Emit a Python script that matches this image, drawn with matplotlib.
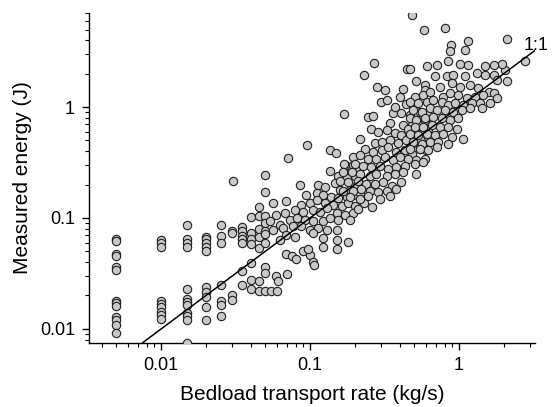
import numpy as np
import matplotlib
matplotlib.use('Agg')
import matplotlib.pyplot as plt
from matplotlib.ticker import LogLocator, NullFormatter

plt.rcParams['font.family'] = ['Liberation Sans', 'DejaVu Sans']

# low transport rates are logged in 0.005 kg/s steps -> vertical columns
col_rate = [0.005, 0.010, 0.015, 0.020, 0.025, 0.030, 0.035, 0.040, 0.045, 0.050, 0.055]
col_energy = [
    [0.065, 0.062, 0.047, 0.045, 0.036, 0.034, 0.018, 0.017, 0.016, 0.0127, 0.0119, 0.0108, 0.0091],
    [0.063, 0.059, 0.055, 0.018, 0.0166, 0.0157, 0.0143, 0.0134, 0.0122],
    [0.086, 0.064, 0.060, 0.055, 0.023, 0.0185, 0.0176, 0.0164, 0.0138, 0.0131, 0.0119, 0.0074],
    [0.068, 0.064, 0.059, 0.055, 0.050, 0.024, 0.0217, 0.0195, 0.0157, 0.0119],
    [0.086, 0.069, 0.060, 0.025, 0.018, 0.0164, 0.0131],
    [0.076, 0.073, 0.0203, 0.0182],
    [0.082, 0.076, 0.069, 0.064, 0.059, 0.0335, 0.0247],
    [0.103, 0.073, 0.064, 0.058, 0.039, 0.0276, 0.0228],
    [0.125, 0.104, 0.080, 0.067, 0.054, 0.027, 0.022],
    [0.105, 0.090, 0.077, 0.072, 0.060, 0.036, 0.032, 0.022],
    [0.022],
]

# (rate, energy) pairs, rate 0.03 - 0.22 kg/s
pts_low = [
    (0.0305, 0.216), (0.050, 0.245), (0.050, 0.171), (0.0705, 0.347), (0.095, 0.45),
    (0.135, 0.41), (0.150, 0.385),
    (0.059, 0.030), (0.061, 0.027), (0.070, 0.031), (0.060, 0.022),
    (0.069, 0.047), (0.075, 0.045), (0.080, 0.043), (0.090, 0.050),
    (0.100, 0.046), (0.105, 0.040), (0.106, 0.038),
    (0.172, 0.301), (0.195, 0.301), (0.207, 0.276), (0.185, 0.254), (0.136, 0.263),
    (0.155, 0.237), (0.176, 0.229), (0.200, 0.237), (0.085, 0.199), (0.113, 0.199),
    (0.126, 0.192), (0.147, 0.206), (0.159, 0.179), (0.185, 0.179), (0.205, 0.199),
    (0.0945, 0.162), (0.1105, 0.167), (0.1225, 0.162), (0.139, 0.156), (0.155, 0.151),
    (0.176, 0.156), (0.195, 0.162), (0.216, 0.167), (0.069, 0.141), (0.087, 0.131),
    (0.0996, 0.136), (0.1105, 0.146), (0.126, 0.136), (0.1435, 0.131), (0.163, 0.127),
    (0.181, 0.136), (0.200, 0.127), (0.0564, 0.136), (0.0594, 0.107), (0.0675, 0.110),
    (0.079, 0.118), (0.0898, 0.114), (0.105, 0.118), (0.1165, 0.114), (0.129, 0.123),
    (0.151, 0.110), (0.172, 0.107), (0.195, 0.110), (0.0536, 0.093), (0.0625, 0.087),
    (0.073, 0.096), (0.081, 0.0995), (0.092, 0.096), (0.105, 0.093), (0.1225, 0.093),
    (0.136, 0.0995), (0.155, 0.096), (0.185, 0.096), (0.0564, 0.078), (0.066, 0.081),
    (0.077, 0.084), (0.087, 0.084), (0.0996, 0.078), (0.113, 0.081), (0.129, 0.078),
    (0.151, 0.078), (0.069, 0.070), (0.079, 0.068), (0.105, 0.073), (0.1225, 0.066),
    (0.151, 0.063), (0.181, 0.061), (0.0625, 0.063), (0.097, 0.053), (0.1225, 0.055),
    (0.151, 0.053),
    (0.23, 0.135), (0.26, 0.125), (0.21, 0.12),
]

# rate 0.15 - 0.65 kg/s
pts_mid = [
    (0.170, 0.867), (0.245, 0.81), (0.265, 0.83), (0.361, 0.88), (0.41, 0.88),
    (0.467, 0.85), (0.544, 0.91), (0.61, 0.88), (0.216, 0.52), (0.343, 0.713),
    (0.421, 0.69), (0.48, 0.69), (0.53, 0.74), (0.588, 0.765), (0.258, 0.64),
    (0.287, 0.60), (0.326, 0.62), (0.37, 0.58), (0.41, 0.56), (0.455, 0.64),
    (0.504, 0.56), (0.573, 0.64), (0.62, 0.64), (0.272, 0.469), (0.302, 0.486),
    (0.343, 0.503), (0.39, 0.469), (0.443, 0.503), (0.491, 0.469), (0.558, 0.503),
    (0.62, 0.54), (0.233, 0.42), (0.265, 0.39), (0.302, 0.407), (0.334, 0.437),
    (0.38, 0.39), (0.432, 0.407), (0.48, 0.38), (0.544, 0.42), (0.603, 0.407),
    (0.194, 0.354), (0.216, 0.367), (0.245, 0.342), (0.279, 0.342), (0.318, 0.354),
    (0.361, 0.33), (0.40, 0.354), (0.455, 0.342), (0.517, 0.33), (0.588, 0.342),
    (0.170, 0.308), (0.200, 0.308), (0.227, 0.297), (0.258, 0.287), (0.294, 0.297),
    (0.334, 0.277), (0.38, 0.287), (0.432, 0.297), (0.504, 0.308), (0.573, 0.319),
    (0.166, 0.258), (0.190, 0.258), (0.216, 0.249), (0.252, 0.24), (0.279, 0.249),
    (0.326, 0.24), (0.37, 0.249), (0.421, 0.258), (0.517, 0.249), (0.158, 0.217),
    (0.180, 0.21), (0.210, 0.217), (0.239, 0.202), (0.272, 0.202), (0.31, 0.21),
    (0.352, 0.195), (0.41, 0.21), (0.166, 0.176), (0.194, 0.176), (0.221, 0.182),
    (0.252, 0.176), (0.287, 0.17), (0.326, 0.176), (0.38, 0.182), (0.185, 0.153),
    (0.216, 0.147), (0.245, 0.158), (0.294, 0.147), (0.343, 0.158),
    (0.27, 2.5), (0.23, 1.96), (0.28, 1.53), (0.32, 1.43), (0.30, 1.12),
    (0.33, 1.16), (0.37, 1.01), (0.40, 1.22), (0.44, 1.07), (0.42, 1.45),
    (0.45, 2.2), (0.465, 2.22),
]

# rate above 0.45 kg/s
pts_high = [
    (0.48, 6.7), (0.58, 5.0), (0.81, 5.2), (2.1, 4.1), (0.89, 3.65), (0.87, 3.2),
    (1.15, 3.9), (1.1, 3.24), (2.76, 2.58), (2.05, 2.14), (2.1, 1.72), (1.95, 2.45),
    (0.605, 2.36), (0.707, 2.41), (0.85, 2.58), (1.016, 2.45), (1.157, 2.41),
    (1.5, 2.36), (1.71, 2.41), (0.518, 1.70), (0.59, 1.59), (0.689, 1.89),
    (0.826, 1.89), (0.916, 1.95), (1.098, 1.89), (1.317, 2.02), (1.5, 1.95),
    (1.71, 1.95), (1.8, 1.76), (0.59, 1.43), (0.745, 1.53), (0.893, 1.64),
    (1.016, 1.53), (1.187, 1.59), (1.35, 1.48), (1.58, 1.38), (1.71, 1.33),
    (0.505, 1.24), (0.575, 1.29), (0.637, 1.38), (0.784, 1.24), (0.87, 1.33),
    (0.99, 1.29), (1.127, 1.2), (1.28, 1.24), (1.46, 1.29), (1.62, 1.08),
    (1.8, 1.2), (0.467, 1.12), (0.532, 1.08), (0.605, 1.12), (0.671, 1.16),
    (0.764, 1.12), (0.85, 1.045), (0.94, 1.08), (1.07, 1.045), (1.22, 1.08),
    (1.387, 1.08), (0.492, 0.94), (0.56, 0.91), (0.637, 0.975), (0.707, 0.94),
    (0.805, 0.94), (0.916, 0.91), (1.043, 0.94), (1.187, 0.975), (1.42, 0.975),
    (0.467, 0.79), (0.518, 0.762), (0.59, 0.79), (0.671, 0.817), (0.764, 0.79),
    (0.87, 0.762), (0.99, 0.79), (0.505, 0.663), (0.575, 0.663), (0.654, 0.686),
    (0.745, 0.663), (0.85, 0.663), (0.965, 0.64), (0.467, 0.576), (0.532, 0.556),
    (0.605, 0.576), (0.689, 0.556), (0.784, 0.576), (0.893, 0.537), (0.492, 0.483),
    (0.56, 0.467), (0.637, 0.483), (0.726, 0.483), (0.85, 0.467), (1.07, 0.518),
    (0.467, 0.42), (0.546, 0.42), (0.62, 0.406), (0.707, 0.435),
]

one_to_one = [0.0075, 3.3]

rate = [r for r, ys in zip(col_rate, col_energy) for _ in ys]
energy = [y for ys in col_energy for y in ys]
for group in (pts_low, pts_mid, pts_high):
    rate += [p[0] for p in group]
    energy += [p[1] for p in group]
rate = np.array(rate)
energy = np.array(energy)

fig = plt.figure(figsize=(5.58, 4.07), dpi=100)
ax = fig.add_axes([0.1595, 0.158, 0.7993, 0.811])

ax.scatter(rate, energy, s=36, c='#c8c8c8', edgecolors='#202020',
           linewidths=0.8, zorder=3)
ax.plot(one_to_one, one_to_one, color='black', lw=1.1, zorder=4)
ax.text(2.72, 3.3, '1:1', fontsize=13, ha='left', va='baseline')

ax.set_xscale('log')
ax.set_yscale('log')
ax.set_xlim(0.00327, 3.24)
ax.set_ylim(0.0075, 7.1)

ax.set_xticks([0.01, 0.1, 1], ['0.01', '0.1', '1'])
ax.set_yticks([0.01, 0.1, 1], ['0.01', '0.1', '1'])
for axis in (ax.xaxis, ax.yaxis):
    axis.set_minor_locator(LogLocator(base=10, subs=np.arange(2, 10)))
    axis.set_minor_formatter(NullFormatter())
ax.tick_params(which='major', direction='out', length=5, width=1,
               labelsize=13, pad=5)
ax.tick_params(which='minor', direction='out', length=3, width=0.8)

for side in ('top', 'right'):
    ax.spines[side].set_visible(False)
for side in ('left', 'bottom'):
    ax.spines[side].set_linewidth(1)

ax.set_xlabel('Bedload transport rate (kg/s)', fontsize=15)
ax.xaxis.set_label_coords(0.5, -0.158)
ax.xaxis.label.set_verticalalignment('center')
ax.set_ylabel('Measured energy (J)', fontsize=15)
ax.yaxis.set_label_coords(-0.150, 0.5)
ax.yaxis.label.set_verticalalignment('center')

fig.savefig('out.png', dpi=100)
